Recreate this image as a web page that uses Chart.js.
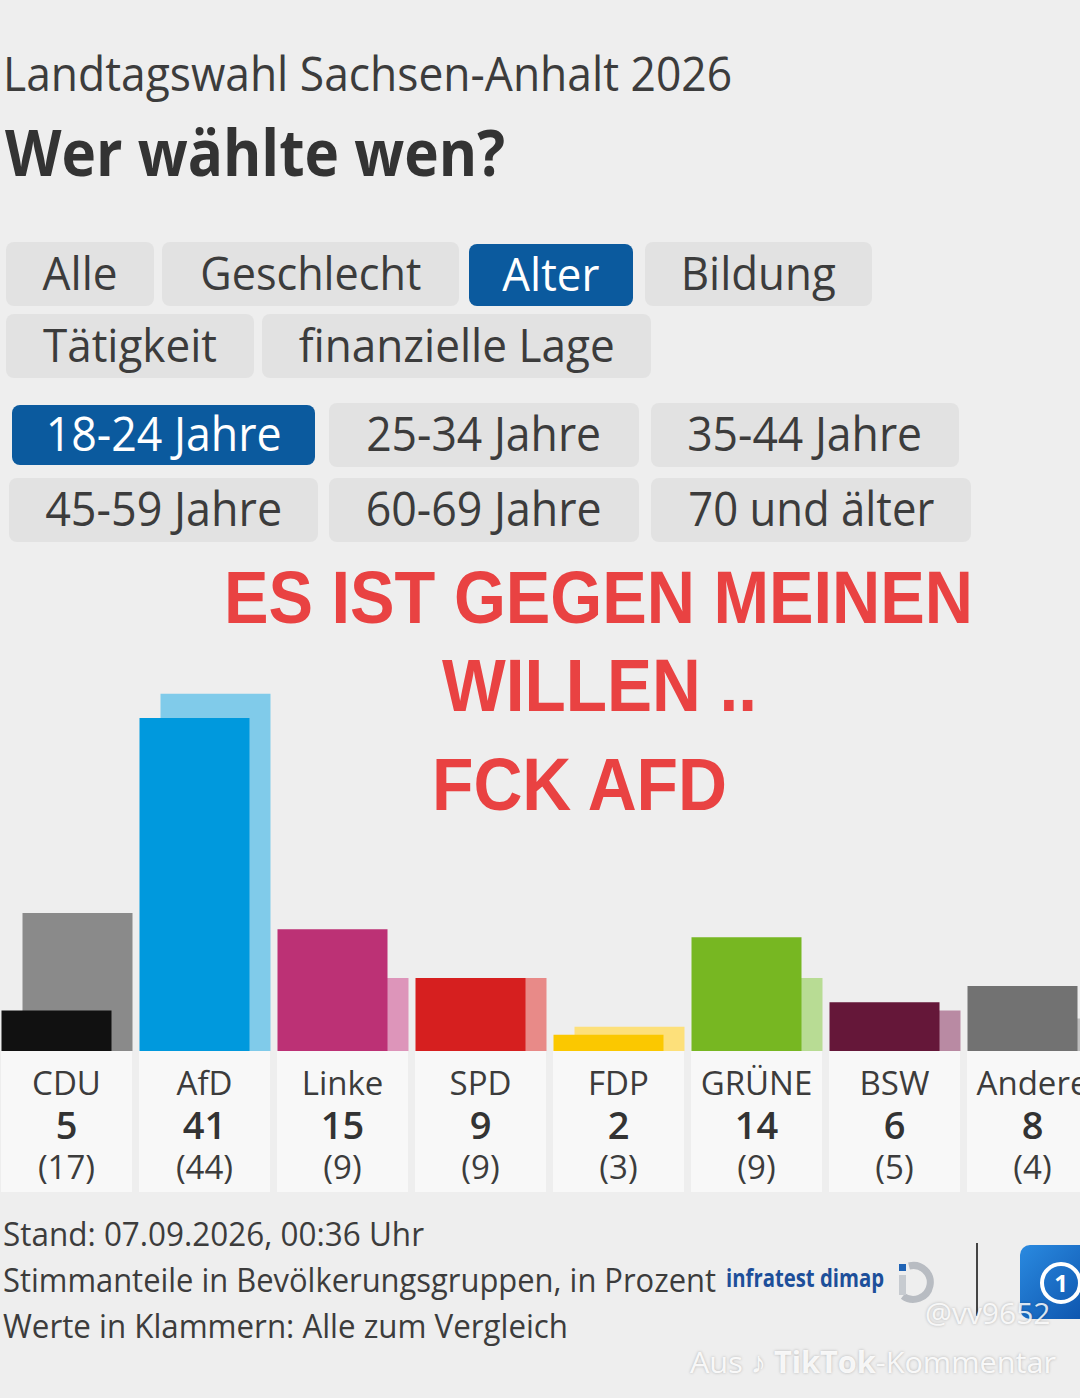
<!DOCTYPE html>
<html><head><meta charset="utf-8">
<script src="https://cdn.jsdelivr.net/npm/chart.js@4.4.1/dist/chart.umd.min.js"></script>
<style>
html,body{margin:0;padding:0;width:1080px;height:1398px;overflow:hidden;background:#eeeeee;font-family:"Open Sans","Noto Sans",sans-serif;color:#3c3c3c;}
.t{position:absolute;white-space:nowrap;line-height:1;transform-origin:0 0;}
.btn{position:absolute;background:#e2e2e2;border-radius:8px;display:flex;align-items:center;justify-content:center;overflow:visible;box-sizing:border-box;padding-bottom:5px;}
.btn span{display:inline-block;white-space:nowrap;line-height:1;transform-origin:50% 50%;color:#3c3c3c;}
.btn.sel{background:#0b5a9e;}
.btn.sel span{color:#fff;}
.red{position:absolute;white-space:nowrap;line-height:1;font-family:"Liberation Sans","Arial",sans-serif;font-weight:700;color:#e94242;font-size:75px;transform-origin:0 0;z-index:5;}
.box{position:absolute;background:#f8f8f8;top:1051px;height:141px;}
.lab{position:absolute;left:0;right:0;text-align:center;line-height:1;white-space:nowrap;color:#3c3c3c;}
#wrap{position:absolute;left:-2px;top:645px;width:1104px;height:406px;z-index:2;}
</style></head>
<body>
<div class="t" id="t1" data-fw="729" style="left:3px;top:50px;font-size:47px;color:#3c3c3c;">Landtagswahl Sachsen-Anhalt 2026</div>
<div class="t" id="t2" data-fw="500" style="left:5px;top:120px;font-size:64px;font-weight:700;color:#333;">Wer wählte wen?</div>
<div id="btns"></div>
<div class="red" data-fw="749" style="left:224px;top:560px;">ES IST GEGEN MEINEN</div>
<div class="red" data-fw="315" style="left:442px;top:648px;">WILLEN ..</div>
<div class="red" data-fw="295" style="left:432px;top:747px;">FCK AFD</div>
<div id="wrap"><canvas id="c" width="1104" height="406"></canvas></div>
<div id="boxes"></div>
<div class="t" data-fw="421" style="left:3px;top:1218px;font-size:32px;">Stand: 07.09.2026, 00:36 Uhr</div>
<div class="t" data-fw="713" style="left:3px;top:1264px;font-size:32px;">Stimmanteile in Bevölkerungsgruppen, in Prozent</div>
<div class="t" data-fw="565" style="left:3px;top:1310px;font-size:32px;">Werte in Klammern: Alle zum Vergleich</div>
<div class="t" data-fw="158" style="left:726px;top:1265px;font-size:25px;font-weight:700;color:#1d4f9a;">infratest dimap</div>
<svg style="position:absolute;left:895px;top:1258px;" width="44" height="46" viewBox="0 0 44 46">
  <path d="M14 8 A17 17 0 1 1 8 38" fill="none" stroke="#b8bcc2" stroke-width="7"/>
  <rect x="4" y="6" width="7" height="7" fill="#1f63b5"/>
  <rect x="4" y="17" width="7" height="20" fill="#c7cbd0"/>
</svg>
<div style="position:absolute;left:976px;top:1243px;width:2px;height:73px;background:#444;"></div>
<div style="position:absolute;left:1020px;top:1245px;width:80px;height:74px;border-radius:10px;background:linear-gradient(135deg,#2a8ae0,#0b4fa8);"></div>
<div style="position:absolute;left:1040px;top:1262px;width:34px;height:34px;border-radius:50%;border:4px solid #fff;color:#fff;font:700 24px 'Open Sans';text-align:center;line-height:34px;">1</div>
<div class="t" style="left:925px;top:1298px;font-size:30px;color:rgba(255,255,255,0.85);text-shadow:0 0 3px rgba(0,0,0,0.25);z-index:6;">@vv9652</div>
<div class="t" data-fw="366" style="left:690px;top:1347px;font-size:30px;color:rgba(255,255,255,0.9);text-shadow:0 0 3px rgba(0,0,0,0.25);z-index:6;">Aus <b>♪ TikTok</b>-Kommentar</div>
<script>
// ---- data ----
const parties = ["CDU","AfD","Linke","SPD","FDP","GRÜNE","BSW","Andere"];
const ageValues = [5,41,15,9,2,14,6,8];          // 18-24 Jahre
const allValues = [17,44,9,9,3,9,5,4];          // Alle (Vergleich)
const mainColors = ["#111111","#0099dd","#bc3175","#d61f1f","#fbc800","#77b722","#651739","#727272"];
const lightColors = ["#8a8a8a","#80cbea","#dd95ba","#e88a88","#fde07a","#b8dc94","#b98aa3","#bdbdbd"];
const groupButtons = ["Alle","Geschlecht","Alter","Bildung","Tätigkeit","finanzielle Lage"];
const ageButtons = ["18-24 Jahre","25-34 Jahre","35-44 Jahre","45-59 Jahre","60-69 Jahre","70 und älter"];

// ---- buttons (layout) ----
const btnLayout = [
  [6,242,148,64,75,46],[162,242,297,64,221,46],[469,244,164,62,97,46],[645,242,227,64,155,46],
  [6,314,248,64,174,46],[262,314,389,64,316,46]
];
const ageLayout = [
  [12,405,303,60,236,48],[329,403,310,64,235,48],[651,403,308,64,235,48],
  [9,478,309,64,237,48],[329,478,310,64,236,48],[651,478,320,64,246,48]
];
const btnWrap = document.getElementById('btns');
function addBtn(txt, l, sel){
  const d = document.createElement('div');
  d.className = 'btn' + (sel ? ' sel' : '');
  d.style.left = l[0]+'px'; d.style.top = l[1]+'px'; d.style.width = l[2]+'px'; d.style.height = l[3]+'px';
  const s = document.createElement('span');
  s.textContent = txt; s.style.fontSize = l[5]+'px'; s.dataset.fw = l[4];
  d.appendChild(s); btnWrap.appendChild(d);
}
groupButtons.forEach((b,i)=>addBtn(b, btnLayout[i], b==="Alter"));
ageButtons.forEach((b,i)=>addBtn(b, ageLayout[i], i===0));

// ---- label boxes ----
const boxes = document.getElementById('boxes');
parties.forEach((p,i)=>{
  const b = document.createElement('div');
  b.className = 'box';
  b.style.left = (1 + 138*i) + 'px'; b.style.width = '131px';
  b.innerHTML =
    '<div class="lab" style="top:15px;font-size:33px;">'+p+'</div>'+
    '<div class="lab" style="top:54px;font-size:38px;font-weight:600;color:#333;">'+ageValues[i]+'</div>'+
    '<div class="lab" style="top:99px;font-size:33px;">('+allValues[i]+')</div>';
  boxes.appendChild(b);
});

// ---- fit text widths ----
document.querySelectorAll('[data-fw]').forEach(el=>{
  const target = +el.dataset.fw;
  const w = el.getBoundingClientRect().width;
  if (w > 0) el.style.transform = 'scaleX(' + (target / w) + ')';
});

// ---- chart ----
new Chart(document.getElementById('c'), {
  type: 'bar',
  data: {
    labels: parties,
    datasets: [
      { label: '18-24 Jahre', data: ageValues, backgroundColor: mainColors, borderWidth: 0 },
      { label: 'Alle', data: allValues, backgroundColor: lightColors, borderWidth: 0 }
    ]
  },
  options: {
    responsive: false,
    animation: false,
    devicePixelRatio: 1,
    layout: { padding: 0 },
    datasets: { bar: { categoryPercentage: 42/138, barPercentage: 110/21 } },
    plugins: { legend: { display: false }, tooltip: { enabled: false } },
    scales: {
      x: { display: false, grid: { display: false } },
      y: { display: false, min: 0, max: 50, grid: { display: false } }
    }
  }
});
</script>
</body></html>
